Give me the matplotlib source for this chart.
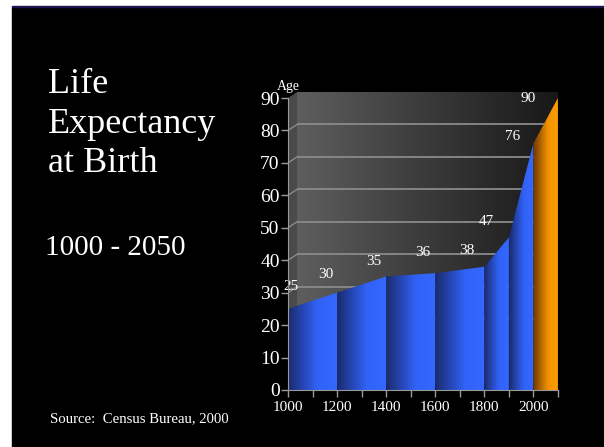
import matplotlib
matplotlib.use('Agg')
import matplotlib.pyplot as plt
import numpy as np
from matplotlib.colors import LinearSegmentedColormap
from matplotlib.patches import Polygon, Rectangle

plt.rcParams['font.family'] = ['Liberation Serif', 'DejaVu Serif']

# data
years = [1000, 1200, 1400, 1600, 1800, 1900, 2000, 2100]
ages = [25, 30, 35, 36, 38, 47, 76, 90]
age_labels = ['25', '30', '35', '36', '38', '47', '76', '90']
year_ticks = [1000, 1200, 1400, 1600, 1800, 2000]
age_ticks = [0, 10, 20, 30, 40, 50, 60, 70, 80, 90]

# where each value label sits, relative to its point (pixels)
label_offsets = [(3, 22), (-11, 18), (-12, 15), (-12, 21), (-17, 16),
                 (-22, 16), (-21, 7), (-30, 0)]

# fake depth of the 3d wall
dx = 37
dy = 1.85

fig = plt.figure(figsize=(6.04, 4.47), dpi=100, facecolor='white')
# black slide background, with the thin navy line on top
fig.patches.append(Rectangle((12 / 604, 0), 1, (447 - 7) / 447,
                             transform=fig.transFigure, color='black', zorder=-2))
fig.patches.append(Rectangle((12 / 604, (447 - 7) / 447), 1, 1.2 / 447,
                             transform=fig.transFigure, color='#1c1450', zorder=-2))

fig.text(48 / 604, 1 - 93 / 447, 'Life', color='white', fontsize=26)
fig.text(48 / 604, 1 - 133 / 447, 'Expectancy', color='white', fontsize=26)
fig.text(48 / 604, 1 - 172 / 447, 'at Birth', color='white', fontsize=26)
fig.text(45 / 604, 1 - 255 / 447, '1000 - 2050', color='white', fontsize=21)
fig.text(50 / 604, 1 - 422 / 447, 'Source:  Census Bureau, 2000', color='white',
         fontsize=10.6)

ax = fig.add_axes([288 / 604, 57 / 447, 279 / 604, 298 / 447])
ax.set_facecolor('none')
ax.set_xlim(1000, 2100 + dx)
ax.set_ylim(0, 90 + dy)

# back wall with gradient
wall = LinearSegmentedColormap.from_list('wall', ['#5e5e5e', '#3a3a3a', '#181818'])
grad = np.linspace(0, 1, 256).reshape(1, -1)
ax.imshow(grad, cmap=wall, extent=(1000 + dx, 2100, dy, 90 + dy),
          aspect='auto', zorder=1)
# side wall
side = Polygon([(1000, 0), (1000, 90), (1000 + dx, 90 + dy), (1000 + dx, dy)],
               closed=True, facecolor='#4a4a4a', edgecolor='none', zorder=1)
ax.add_patch(side)
for v in age_ticks[1:-1]:
    ax.plot([1000 + dx, 2090], [v + dy, v + dy], color='#8a8a8a', lw=1.3,
            solid_capstyle='butt', zorder=2)
for v in age_ticks[:-1]:
    ax.plot([1000, 1000 + dx], [v, v + dy], color='#8a8a8a', lw=1.0, zorder=2)

# area, one gradient piece per segment
blue = LinearSegmentedColormap.from_list('blue', [(0, '#1a2a6c'), (0.6, '#3162f8'),
                                                  (1, '#3468ff')])
orange = LinearSegmentedColormap.from_list('orange', [(0, '#6a3600'), (0.6, '#f29200'),
                                                      (1, '#ff9e00')])
for i in range(len(years) - 1):
    x0, x1 = years[i], years[i + 1]
    y0, y1 = ages[i], ages[i + 1]
    poly = Polygon([(x0, 0), (x0, y0), (x1, y1), (x1, 0)], closed=True,
                   facecolor='none', edgecolor='none')
    ax.add_patch(poly)
    cm = orange if i == len(years) - 2 else blue
    im = ax.imshow(grad, cmap=cm, extent=(x0, x1, 0, max(y0, y1)),
                   aspect='auto', zorder=3)
    im.set_clip_path(poly)

ax.set_xlim(1000, 2100 + dx)
ax.set_ylim(0, 90 + dy)

for x, y, txt, off in zip(years, ages, age_labels, label_offsets):
    ax.annotate(txt, (x, y), xytext=off, textcoords='offset pixels',
                ha='center', va='center', color='white', fontsize=11, zorder=5)

for s in ['top', 'right']:
    ax.spines[s].set_visible(False)
for s in ['left', 'bottom']:
    ax.spines[s].set_color('#9a9a9a')
    ax.spines[s].set_zorder(6)
ax.spines['left'].set_bounds(0, 90)
ax.spines['bottom'].set_bounds(1000, 2100)

ax.set_xticks(year_ticks)
ax.set_xticks(range(1100, 2101, 200), minor=True)
ax.set_yticks(age_ticks)
ax.tick_params(axis='both', which='both', colors='#9a9a9a', length=5, width=1)
ax.tick_params(axis='x', labelsize=11, labelcolor='white', pad=3)
ax.tick_params(axis='y', labelsize=14, labelcolor='white', pad=1)

ax.text(1000, 91.5, 'Age', color='white', fontsize=10, ha='center', va='bottom',
        transform=ax.transData)

fig.savefig('out.png', dpi=100, facecolor=fig.get_facecolor())
